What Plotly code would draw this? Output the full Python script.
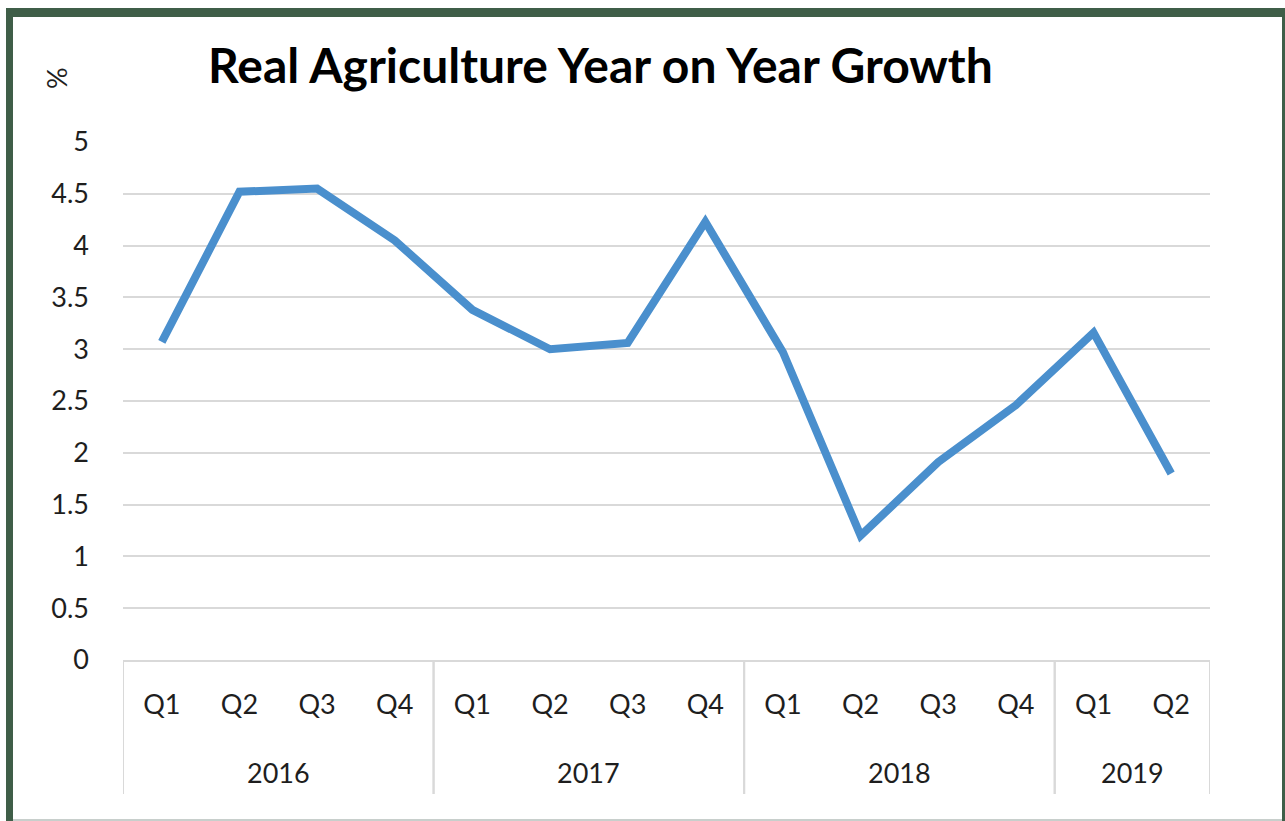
import plotly.graph_objects as go

years = ["2016"] * 4 + ["2017"] * 4 + ["2018"] * 4 + ["2019"] * 2
quarters = ["Q1", "Q2", "Q3", "Q4", "Q1", "Q2", "Q3", "Q4", "Q1", "Q2", "Q3", "Q4", "Q1", "Q2"]
growth = [3.07, 4.52, 4.55, 4.05, 3.38, 3.0, 3.06, 4.23, 2.97, 1.2, 1.91, 2.46, 3.16, 1.8]
y_ticks = [0, 0.5, 1, 1.5, 2, 2.5, 3, 3.5, 4, 4.5, 5]
y_tick_text = ["0", "0.5", "1", "1.5", "2", "2.5", "3", "3.5", "4", "4.5", "5"]

W, H = 1285, 821
L, R, T, B = 123, 1210, 142, 660
FONT = "Lato"
GREEN = "#3f5e48"
GRID = "#d9d9d9"
TXT = "#1e1e1e"

idx = list(range(len(quarters)))


def px(x):
    return (x - L) / (R - L)


def py(y):
    return (B - y) / (B - T)


# year groups from the category list
groups = []
for i, yv in enumerate(years):
    if groups and groups[-1][0] == yv:
        groups[-1][2] = i
    else:
        groups.append([yv, i, i])

fig = go.Figure()
fig.add_trace(go.Scatter(
    x=idx, y=growth, mode="lines",
    line=dict(color="#4a8fcd", width=8), hoverinfo="skip", showlegend=False,
))

annotations = [
    dict(text="<b>Real Agriculture Year on Year Growth</b>", xref="paper", yref="paper",
         x=px(600), y=py(64), xanchor="center", yanchor="middle", showarrow=False,
         font=dict(size=48, family=FONT, color="black")),
    dict(text="%", xref="paper", yref="paper", x=px(56), y=py(78), textangle=-90,
         xanchor="center", yanchor="middle", showarrow=False,
         font=dict(size=27, family=FONT, color=TXT)),
]
shapes = []
for name, a, b in groups:
    annotations.append(dict(text=name, xref="x", yref="paper", x=(a + b) / 2, y=py(772),
                            xanchor="center", yanchor="middle", showarrow=False,
                            font=dict(size=27, family=FONT, color=TXT)))
    for xv in (a - 0.5, b + 0.5):
        shapes.append(dict(type="line", xref="x", yref="paper", x0=xv, x1=xv,
                           y0=py(660), y1=py(794), line=dict(color=GRID, width=2)))

shapes += [
    dict(type="rect", xref="paper", yref="paper", x0=px(6), x1=px(13), y0=py(821), y1=py(8),
         fillcolor=GREEN, line=dict(width=0), layer="above"),
    dict(type="rect", xref="paper", yref="paper", x0=px(6), x1=px(1285), y0=py(17), y1=py(8),
         fillcolor=GREEN, line=dict(width=0), layer="above"),
    dict(type="rect", xref="paper", yref="paper", x0=px(1282), x1=px(1285), y0=py(821), y1=py(8),
         fillcolor=GREEN, line=dict(width=0), layer="above"),
    dict(type="line", xref="paper", yref="paper", x0=px(13), x1=px(1282), y0=py(820), y1=py(820),
         line=dict(color="#c8cfcc", width=2), layer="above"),
]

fig.update_layout(
    width=W, height=H,
    margin=dict(l=L, r=W - R, t=T, b=H - B),
    paper_bgcolor="white", plot_bgcolor="white",
    font=dict(family=FONT, size=27, color=TXT),
    xaxis=dict(
        range=[-0.5, len(quarters) - 0.5], tickvals=idx, ticktext=quarters,
        showgrid=False, showline=True, linecolor=GRID, linewidth=2, zeroline=False,
        ticks="", ticklabelstandoff=20,
        tickfont=dict(size=27, family=FONT, color=TXT),
    ),
    yaxis=dict(
        range=[0, 5], tickvals=y_ticks, ticktext=y_tick_text, showgrid=True,
        gridcolor=GRID, gridwidth=2, zeroline=False, showline=False, ticks="",
        ticklabelstandoff=33, tickfont=dict(size=27, family=FONT, color=TXT),
    ),
    annotations=annotations,
    shapes=shapes,
)

fig.write_html("out.html")
